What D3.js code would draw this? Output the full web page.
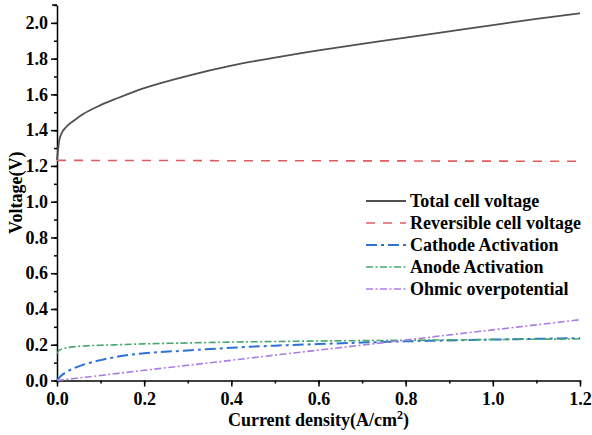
<!DOCTYPE html>
<html>
<head>
<meta charset="utf-8">
<script src="https://cdn.jsdelivr.net/npm/d3@7"></script>
<style>
  body { margin: 0; background: #fff; }
  svg text { font-family: "Liberation Serif", "Times New Roman", serif; font-weight: bold; fill: #000; }
</style>
</head>
<body>
<div id="chart"></div>
<script>
// values
var currentDensity = [0, 0.005, 0.01, 0.02, 0.04, 0.06, 0.1, 0.14, 0.2, 0.3, 0.4,
                      0.5, 0.6, 0.7, 0.8, 0.9, 1.0, 1.1, 1.2];
var totalVoltage = [1.233, 1.34, 1.38, 1.415, 1.455, 1.49, 1.54, 1.58, 1.635, 1.704, 1.761,
                    1.806, 1.846, 1.883, 1.918, 1.953, 1.988, 2.022, 2.054];
var reversibleVoltage = [1.231, 1.231, 1.231, 1.231, 1.231, 1.231, 1.230, 1.230, 1.230, 1.230, 1.229,
                         1.229, 1.229, 1.228, 1.228, 1.227, 1.227, 1.226, 1.226];
var cathodeActivation = [0, 0.015, 0.028, 0.045, 0.07, 0.088, 0.114, 0.134, 0.152, 0.168, 0.183,
                         0.195, 0.204, 0.212, 0.219, 0.224, 0.229, 0.233, 0.237];
var anodeActivation = [0.15, 0.168, 0.175, 0.182, 0.189, 0.193, 0.197, 0.2, 0.205, 0.21, 0.215,
                       0.218, 0.221, 0.223, 0.225, 0.227, 0.229, 0.231, 0.232];
var ohmicOverpotential = [0, 0.0014, 0.0028, 0.0057, 0.011, 0.017, 0.028, 0.04, 0.057, 0.085, 0.113,
                          0.142, 0.17, 0.198, 0.226, 0.255, 0.283, 0.311, 0.34];

var xTicks = [0, 0.2, 0.4, 0.6, 0.8, 1.0, 1.2];
var yTicks = [0, 0.2, 0.4, 0.6, 0.8, 1.0, 1.2, 1.4, 1.6, 1.8, 2.0];

var series = [
  { name: "Total cell voltage",      values: totalVoltage,       color: "#505050", dash: null,          width: 1.8 },
  { name: "Reversible cell voltage", values: reversibleVoltage,  color: "#e35b5e", dash: "9,8",         width: 1.6 },
  { name: "Cathode Activation",      values: cathodeActivation,  color: "#2f72d6", dash: "11,4,3,4",    width: 2 },
  { name: "Anode Activation",        values: anodeActivation,    color: "#45a96d", dash: "7,2.5,2,2.5", width: 1.6 },
  { name: "Ohmic overpotential",     values: ohmicOverpotential, color: "#ab7de2", dash: "7,2.5,2,2.5", width: 1.6 }
];

var w = 592;
var h = 435;

var x = d3.scaleLinear().domain([0, 1.2]).range([57, 580]);
var y = d3.scaleLinear().domain([0, 2.1]).range([380.5, 5]);

var svg = d3.select("#chart")
            .append("svg")
            .attr("width", w)
            .attr("height", h);

// minor ticks first, so major ticks draw over them
svg.append("g")
   .attr("transform", "translate(0," + y(0) + ")")
   .call(d3.axisBottom(x).tickValues(d3.range(0, 1.25, 0.1)).tickSize(3).tickFormat(""))
   .call(function(g) { g.select(".domain").remove(); });
svg.append("g")
   .attr("transform", "translate(" + x(0) + ",0)")
   .call(d3.axisLeft(y).tickValues(d3.range(0, 2.15, 0.1)).tickSize(3).tickFormat(""))
   .call(function(g) { g.select(".domain").remove(); });

var xAxis = svg.append("g")
   .attr("transform", "translate(0," + y(0) + ")")
   .call(d3.axisBottom(x).tickValues(xTicks).tickSize(6).tickSizeOuter(0).tickPadding(6).tickFormat(d3.format(".1f")));
var yAxis = svg.append("g")
   .attr("transform", "translate(" + x(0) + ",0)")
   .call(d3.axisLeft(y).tickValues(yTicks).tickSize(6).tickSizeOuter(0).tickPadding(3).tickFormat(d3.format(".1f")));

svg.selectAll(".tick line").attr("stroke", "#000").attr("stroke-width", 1.5);
svg.selectAll(".domain").attr("stroke", "#000").attr("stroke-width", 1.5);
svg.selectAll(".tick text")
   .attr("font-family", null)
   .style("font-size", "18px")
   .style("font-family", "'Liberation Serif', serif")
   .style("font-weight", "bold");

// end cap at top of y axis
yAxis.append("line")
     .attr("x1", -5).attr("x2", 0)
     .attr("y1", y(2.1)).attr("y2", y(2.1))
     .attr("stroke", "#000").attr("stroke-width", 1.5);

var line = d3.line()
  .x(function(d, i) { return x(currentDensity[i]); })
  .y(function(d) { return y(d); })
  .curve(d3.curveMonotoneX);

svg.selectAll("path.series")
   .data(series)
   .enter()
   .append("path")
   .attr("class", "series")
   .attr("fill", "none")
   .attr("stroke", function(d) { return d.color; })
   .attr("stroke-width", function(d) { return d.width; })
   .attr("stroke-dasharray", function(d) { return d.dash; })
   .attr("d", function(d) { return line(d.values); });

// axis titles
svg.append("text")
   .attr("x", (x(0) + x(1.2)) / 2)
   .attr("y", 426)
   .attr("text-anchor", "middle")
   .style("font-size", "18px")
   .html('Current density(A/cm<tspan dy="-7" style="font-size:12px">2</tspan><tspan dy="7">)</tspan>');

svg.append("text")
   .attr("transform", "translate(22," + y(1.05) + ") rotate(-90)")
   .attr("text-anchor", "middle")
   .style("font-size", "18px")
   .text("Voltage(V)");

// legend
var legend = svg.append("g").attr("transform", "translate(366,201)");
var rows = legend.selectAll("g")
   .data(series)
   .enter()
   .append("g")
   .attr("transform", function(d, i) { return "translate(0," + i * 22 + ")"; });
rows.append("line")
    .attr("x1", 0).attr("x2", 40)
    .attr("stroke", function(d) { return d.color; })
    .attr("stroke-width", function(d) { return d.width; })
    .attr("stroke-dasharray", function(d) { return d.dash; });
rows.append("text")
    .attr("x", 44)
    .attr("dy", "0.35em")
    .style("font-size", "18px")
    .text(function(d) { return d.name; });
</script>
</body>
</html>
